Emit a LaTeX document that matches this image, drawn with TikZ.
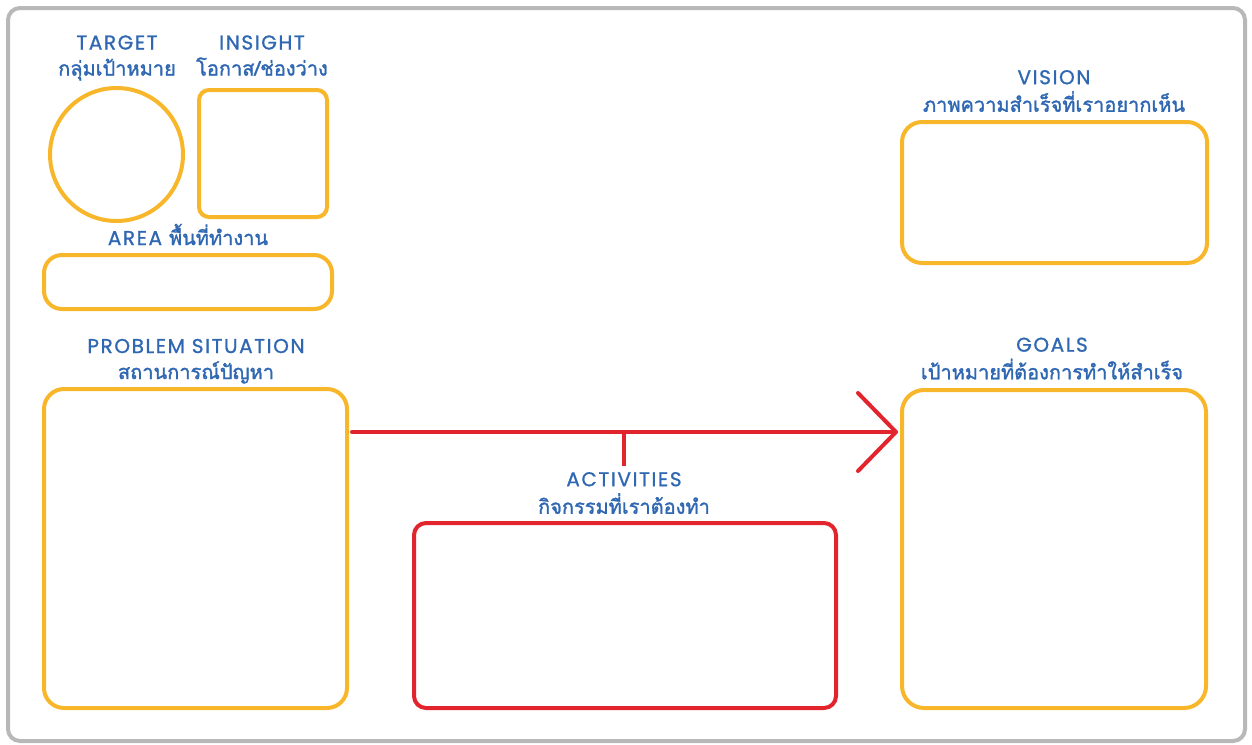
\documentclass[tikz,border=0pt]{standalone}
\usepackage{fontspec}
\setmainfont[LetterSpace=8,FakeBold=1]{Poppins}
\newfontfamily\thai[Script=Thai,FakeBold=1.5]{Loma}
\definecolor{labelblue}{HTML}{2F67B2}
\definecolor{boxyellow}{HTML}{F8B62B}
\definecolor{arrowred}{HTML}{E2242C}
\definecolor{framegray}{HTML}{B8B8B8}
\newcommand\lblstrut{\rule[-6pt]{0pt}{26pt}}
\tikzset{
  ybox/.style={draw=boxyellow,line width=4pt,rounded corners=#1,inner sep=0pt},
  ybox/.default=18pt,
  rbox/.style={draw=arrowred,line width=4pt,rounded corners=12pt,inner sep=0pt},
  lbl/.style={text=labelblue,align=center,inner sep=0pt,font=\fontsize{20}{26}\selectfont},
  redline/.style={draw=arrowred,line width=4pt,line cap=round}
}
\begin{document}
\begin{tikzpicture}[x=1pt,y=-1pt]
    \useasboundingbox (0,0) rectangle (1252,744);

    % Outer frame
    \draw[framegray,line width=4pt,rounded corners=12pt] (8,8) rectangle (1245,741);

    % Top left: target, insight, area
    \node[lbl] (targetlbl) at (117,55.5) {\lblstrut TARGET\\\lblstrut\thai กลุ่มเป้าหมาย};
    \node[draw=boxyellow,line width=4pt,circle,minimum size=133pt,inner sep=0pt] (target) at (116.5,154.5) {};
    \node[lbl] (insightlbl) at (262,55.5) {\lblstrut INSIGHT\\\lblstrut\thai โอกาส/ช่องว่าง};
    \node[ybox=10pt,minimum width=128pt,minimum height=127pt] (insight) at (263,153.5) {};
    \node[lbl,anchor=base] (arealbl) at (188,245) {AREA {\thai พื้นที่ทำงาน}};
    \node[ybox,minimum width=288pt,minimum height=54pt] (area) at (188,282) {};

    % Vision
    \node[lbl] (visionlbl) at (1054,91) {\lblstrut VISION\\\lblstrut\thai ภาพความสำเร็จที่เราอยากเห็น};
    \node[ybox=20pt,minimum width=305pt,minimum height=141pt] (vision) at (1054.5,192.5) {};

    % Problem situation
    \node[lbl] (problemlbl) at (196,359) {\lblstrut PROBLEM SITUATION\\\lblstrut\thai สถานการณ์ปัญหา};
    \node[ybox=20pt,minimum width=303pt,minimum height=319pt] (problem) at (195.5,548.5) {};

    % Goals
    \node[lbl] (goalslbl) at (1052,358.5) {\lblstrut GOALS\\\lblstrut\thai เป้าหมายที่ต้องการทำให้สำเร็จ};
    \node[ybox=22pt,minimum width=304pt,minimum height=318pt] (goals) at (1054,549) {};

    % Activities
    \node[lbl] (activitieslbl) at (624,493) {\lblstrut ACTIVITIES\\\lblstrut\thai กิจกรรมที่เราต้องทำ};
    \node[rbox,minimum width=422pt,minimum height=185pt] (activities) at (625,615.5) {};

    % Arrow from problem to goals
    \coordinate (arrowstart) at (352,432);
    \coordinate (arrowend) at (896,432);
    \draw[redline] (arrowstart) -- (arrowend);
    \draw[redline,line join=round] (arrowend) ++(-38,-39) -- (arrowend) -- ++(-38,39);
    \draw[redline,line cap=butt] (activitieslbl.north) -- (activitieslbl.north |- arrowstart);
\end{tikzpicture}
\end{document}
